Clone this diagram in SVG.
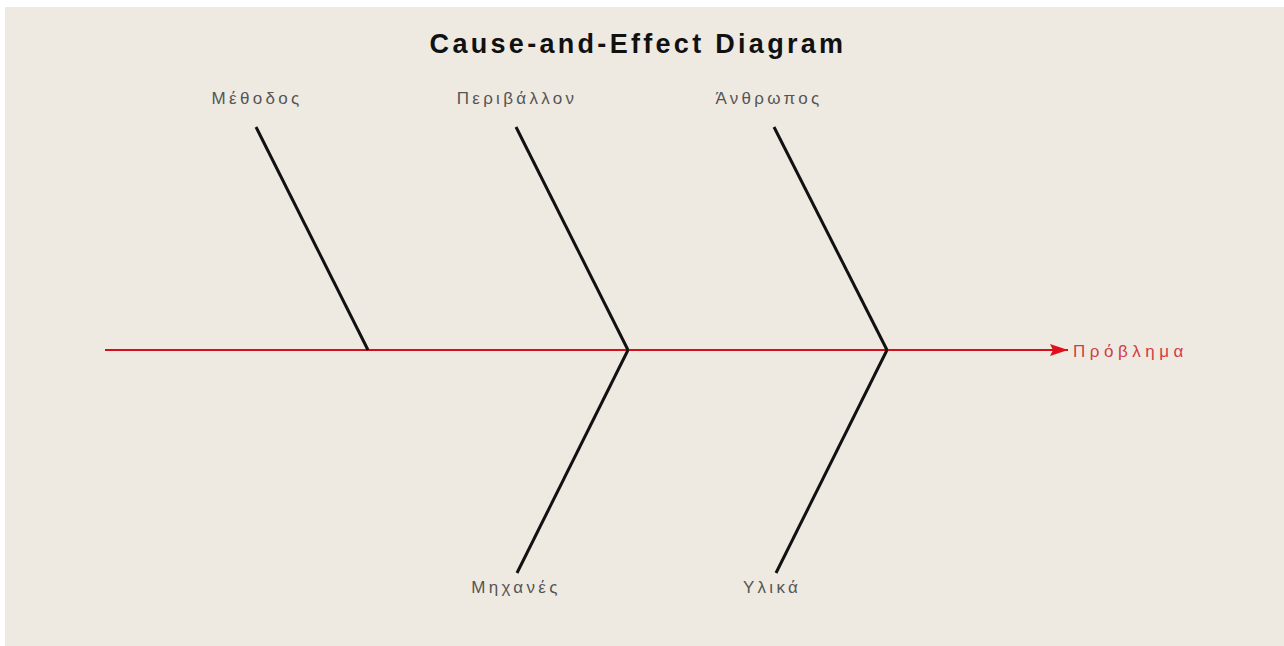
<svg xmlns="http://www.w3.org/2000/svg" width="1284" height="646" viewBox="0 0 1284 646">
<defs>
<style>
.bone{stroke:#111;stroke-width:3;fill:none;stroke-linecap:butt}
.lbl{font-family:"Liberation Sans",Arial,sans-serif;font-size:17px;fill:#555;letter-spacing:3.3px;text-anchor:middle}
.title{font-family:"Liberation Sans",Arial,sans-serif;font-size:27px;font-weight:bold;fill:#111;letter-spacing:3.3px;text-anchor:middle}
</style>
<marker id="arr" viewBox="0 0 18 12" refX="18" refY="6" markerWidth="18" markerHeight="12" markerUnits="userSpaceOnUse" orient="auto">
<path d="M0,0 L18,6 L0,12 L3,6 Z" fill="#e0101a"/>
</marker>
</defs>
<rect x="0" y="0" width="1284" height="646" fill="#ffffff"/>
<rect x="5" y="7" width="1279" height="639" fill="#eeeae1"/>
<text class="title" x="638" y="53">Cause-and-Effect Diagram</text>
<g id="connectors">
<line x1="105" y1="350" x2="1068" y2="350" stroke="#d4101c" stroke-width="2" marker-end="url(#arr)"/>
</g>
<g id="effect">
<text x="1073" y="357" font-family="'Liberation Sans',Arial,sans-serif" font-size="17" fill="#d43a44" letter-spacing="4.5">Πρόβλημα</text>
</g>
<g id="methodos">
<line class="bone" x1="256" y1="127" x2="368" y2="350"/>
<text class="lbl" x="257" y="104">Μέθοδος</text>
</g>
<g id="perivallon">
<line class="bone" x1="516" y1="127" x2="628" y2="350"/>
<text class="lbl" x="517" y="104">Περιβάλλον</text>
</g>
<g id="anthropos">
<line class="bone" x1="774" y1="127" x2="887" y2="350"/>
<text class="lbl" x="769" y="104">Άνθρωπος</text>
</g>
<g id="mihanes">
<line class="bone" x1="628" y1="350" x2="517" y2="573"/>
<text class="lbl" x="516" y="593">Μηχανές</text>
</g>
<g id="ylika">
<line class="bone" x1="887" y1="350" x2="776" y2="573"/>
<text class="lbl" x="772" y="593">Υλικά</text>
</g>
</svg>
